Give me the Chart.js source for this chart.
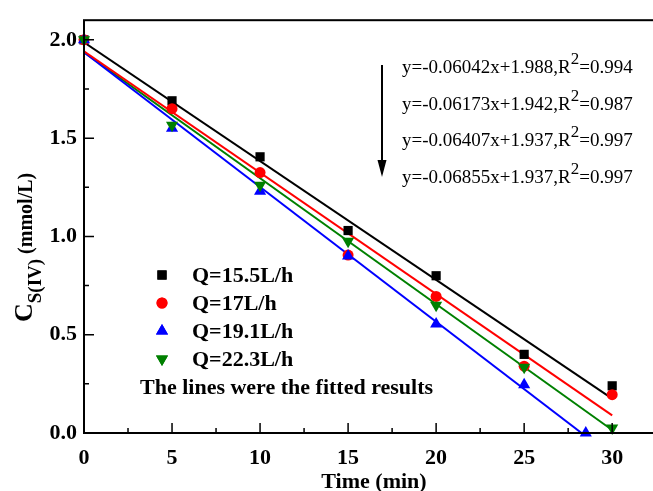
<!DOCTYPE html>
<html>
<head>
<meta charset="utf-8">
<script src="https://cdn.jsdelivr.net/npm/chart.js@4"></script>
<style>
  html, body { margin: 0; padding: 0; background: #fff; overflow: hidden; }
  #wrap { width: 680px; height: 491px; }
</style>
</head>
<body>
<div id="wrap"><canvas id="chart"></canvas></div>
<script>
// measured concentrations (mmol/L) vs time (min)
const timeMin = [0, 5, 10, 15, 20, 25, 30];
const q155 = [2.0, 1.69, 1.405, 1.03, 0.80, 0.40, 0.24];
const q17 = [2.0, 1.65, 1.325, 0.905, 0.695, 0.34, 0.195];
const q191Time = [0, 5, 10, 15, 20, 25, 28.5];
const q191 = [2.0, 1.55, 1.23, 0.90, 0.555, 0.245, 0.0];
const q223 = [2.0, 1.565, 1.26, 0.975, 0.65, 0.335, 0.025];

// fitted line end points
const fit155 = [[0, 1.988], [30, 0.175]];
const fit17 = [[0, 1.942], [30, 0.090]];
const fit191 = [[0, 1.937], [28.26, 0.0]];
const fit223 = [[0, 1.937], [30, 0.015]];

const seriesLabels = ['Q=15.5L/h', 'Q=17L/h', 'Q=19.1L/h', 'Q=22.3L/h'];
const seriesColors = ['#000000', '#ff0000', '#0000ff', '#008000'];
const equations = [
  ['y=-0.06042x+1.988,R', '2', '=0.994'],
  ['y=-0.06173x+1.942,R', '2', '=0.987'],
  ['y=-0.06407x+1.937,R', '2', '=0.997'],
  ['y=-0.06855x+1.937,R', '2', '=0.997']
];
const noteText = 'The lines were the fitted results';

function toPoints(xs, ys) {
  return xs.map((x, i) => ({ x: x, y: ys[i] }));
}
function fitPoints(pairs) {
  return pairs.map(p => ({ x: p[0], y: p[1] }));
}

const markerStyles = [
  { pointStyle: 'rect', radius: 6.5, rotation: 0 },
  { pointStyle: 'circle', radius: 5.5, rotation: 0 },
  { pointStyle: 'triangle', radius: 7, rotation: 0 },
  { pointStyle: 'triangle', radius: 7, rotation: 180 }
];

const SERIF = '"Liberation Serif", "Times New Roman", serif';

function scatterSet(i, pts) {
  return {
    label: seriesLabels[i],
    data: pts,
    showLine: false,
    pointStyle: markerStyles[i].pointStyle,
    pointRadius: markerStyles[i].radius,
    pointRotation: markerStyles[i].rotation,
    pointBackgroundColor: seriesColors[i],
    pointBorderColor: seriesColors[i],
    pointBorderWidth: 0,
    clip: false,
    order: 4 - i
  };
}
function lineSet(i, pts) {
  return {
    label: 'fit ' + seriesLabels[i],
    data: pts,
    showLine: true,
    borderColor: seriesColors[i],
    borderWidth: 2,
    pointRadius: 0,
    order: 10
  };
}

// frame, inward ticks, titles, legend and equations
const decorations = {
  id: 'decorations',
  afterDraw(chart) {
    const ctx = chart.ctx;
    const a = chart.chartArea;
    const xs = chart.scales.x;
    const ys = chart.scales.y;
    ctx.save();
    ctx.strokeStyle = '#000';
    ctx.fillStyle = '#000';

    // frame
    ctx.lineWidth = 2;
    ctx.strokeRect(a.left, a.top, a.right - a.left, a.bottom - a.top);

    // ticks (inward)
    ctx.lineWidth = 1.5;
    ctx.beginPath();
    for (let v = 0; v <= 30.01; v += 2.5) {
      const px = xs.getPixelForValue(v);
      const len = Math.abs(v % 5) < 0.01 ? 10 : 5;
      ctx.moveTo(px, a.bottom);
      ctx.lineTo(px, a.bottom - len);
    }
    for (let v = 0; v <= 2.01; v += 0.25) {
      const py = ys.getPixelForValue(v);
      const len = Math.abs((v * 2) % 1) < 0.01 ? 10 : 5;
      ctx.moveTo(a.left, py);
      ctx.lineTo(a.left + len, py);
    }
    ctx.stroke();

    // x axis title
    ctx.font = 'bold 22px ' + SERIF;
    ctx.textAlign = 'center';
    ctx.textBaseline = 'alphabetic';
    ctx.fillText('Time (min)', 374, 488);

    // y axis title with subscript
    ctx.save();
    ctx.translate(32, 322);
    ctx.rotate(-Math.PI / 2);
    ctx.textAlign = 'left';
    ctx.font = 'bold 26px ' + SERIF;
    ctx.fillText('C', 0, 0);
    let w = ctx.measureText('C').width;
    ctx.font = 'bold 19px ' + SERIF;
    ctx.fillText('S(IV)', w, 9);
    w += ctx.measureText('S(IV)').width;
    ctx.font = 'bold 20px ' + SERIF;
    ctx.fillText(' (mmol/L)', w, 0);
    ctx.restore();

    // legend
    ctx.textAlign = 'left';
    ctx.font = 'bold 22px ' + SERIF;
    seriesLabels.forEach((lab, i) => {
      const base = 282 + i * 28;
      const m = markerStyles[i];
      ctx.fillStyle = seriesColors[i];
      Chart.helpers.drawPoint(ctx, {
        pointStyle: m.pointStyle, radius: m.radius, rotation: m.rotation, borderWidth: 0
      }, 162, base - 7);
      ctx.fill();
      ctx.fillStyle = '#000';
      ctx.fillText(lab, 192, base);
    });
    ctx.fillText(noteText, 140, 394);

    // equations
    equations.forEach((eq, i) => {
      const base = 73 + i * 36.7;
      ctx.font = '19px ' + SERIF;
      ctx.fillText(eq[0], 402, base);
      let x = 402 + ctx.measureText(eq[0]).width;
      ctx.font = '17px ' + SERIF;
      ctx.fillText(eq[1], x, base - 9);
      x += ctx.measureText(eq[1]).width;
      ctx.font = '19px ' + SERIF;
      ctx.fillText(eq[2], x, base);
    });

    // arrow
    ctx.lineWidth = 2;
    ctx.beginPath();
    ctx.moveTo(382, 65);
    ctx.lineTo(382, 165);
    ctx.stroke();
    ctx.beginPath();
    ctx.moveTo(377.5, 160);
    ctx.lineTo(386.5, 160);
    ctx.lineTo(382, 177);
    ctx.closePath();
    ctx.fill();

    ctx.restore();
  }
};

new Chart(document.getElementById('chart'), {
  type: 'scatter',
  data: {
    datasets: [
      scatterSet(0, toPoints(timeMin, q155)),
      scatterSet(1, toPoints(timeMin, q17)),
      scatterSet(2, toPoints(q191Time, q191)),
      scatterSet(3, toPoints(timeMin, q223)),
      lineSet(0, fitPoints(fit155)),
      lineSet(1, fitPoints(fit17)),
      lineSet(2, fitPoints(fit191)),
      lineSet(3, fitPoints(fit223))
    ]
  },
  options: {
    responsive: true,
    maintainAspectRatio: false,
    animation: false,
    layout: { padding: { left: 0, top: 13, right: 15, bottom: 0 } },
    plugins: {
      legend: { display: false },
      tooltip: { enabled: false }
    },
    scales: {
      x: {
        type: 'linear',
        min: 0,
        max: 33,
        grid: { display: false, drawTicks: false },
        border: { display: false },
        ticks: {
          stepSize: 5,
          includeBounds: false,
          padding: 12,
          color: '#000',
          maxRotation: 0,
          font: { family: SERIF, size: 22, weight: 'bold' }
        },
        afterFit(scale) { scale.height = 58; }
      },
      y: {
        type: 'linear',
        min: 0,
        max: 2.1,
        grid: { display: false, drawTicks: false },
        border: { display: false },
        ticks: {
          stepSize: 0.5,
          includeBounds: false,
          padding: 7,
          color: '#000',
          font: { family: SERIF, size: 22, weight: 'bold' },
          callback: v => v.toFixed(1)
        },
        afterFit(scale) { scale.width = 84; }
      }
    }
  },
  plugins: [decorations]
});
</script>
</body>
</html>
